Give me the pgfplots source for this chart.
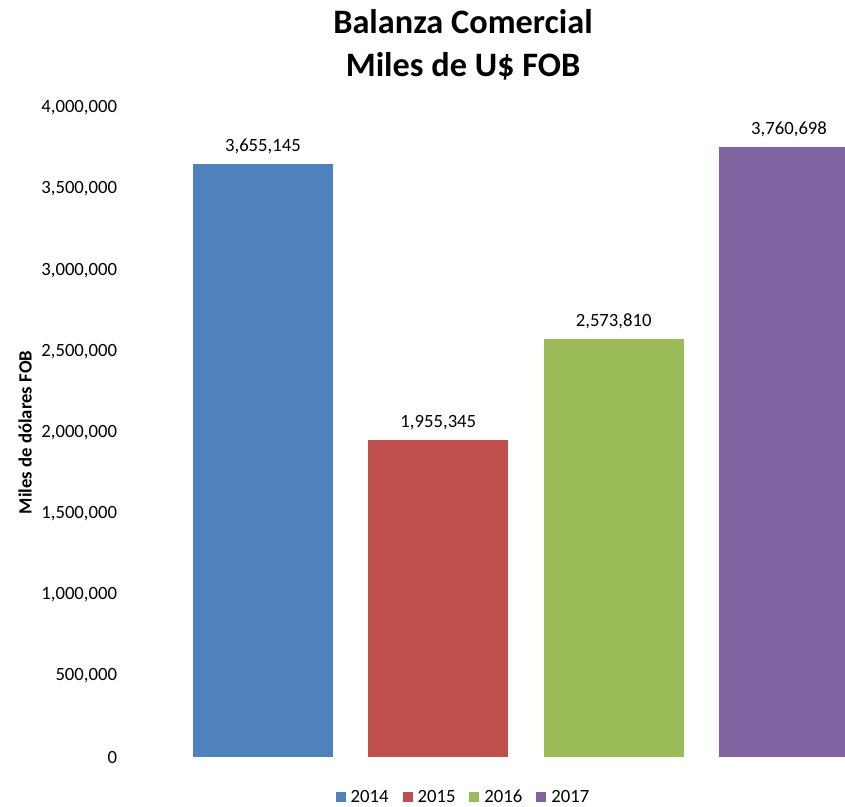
\documentclass[border=0pt]{standalone}
\usepackage{fontspec}
\setmainfont{Carlito}
\usepackage{pgfplots}
\pgfplotsset{compat=1.18}
\definecolor{c14}{HTML}{4F81BD}
\definecolor{c15}{HTML}{C0504D}
\definecolor{c16}{HTML}{9BBB59}
\definecolor{c17}{HTML}{8064A2}
\newcommand{\sz}{\fontsize{18.7}{22}\selectfont}
\begin{document}
\begin{tikzpicture}
\path[use as bounding box] (0pt,0pt) rectangle (845pt,806pt);
\node[font=\fontsize{34.3}{38}\selectfont\bfseries] at (463pt,784pt) {Balanza Comercial};
\node[font=\fontsize{34.3}{38}\selectfont\bfseries] at (463pt,740pt) {Miles de U\$ FOB};
\begin{axis}[
    at={(175.25pt,49pt)}, anchor=south west,
    scale only axis, width=669.75pt, height=649pt,
    ybar, bar width=140pt,
    xmin=-0.5, xmax=3.319,
    ymin=0, ymax=4000000,
    xtick=\empty,
    ytick={0,500000,1000000,1500000,2000000,2500000,3000000,3500000,4000000},
    scaled y ticks=false,
    yticklabel style={/pgf/number format/fixed, /pgf/number format/1000 sep={,},
        /pgf/number format/assume math mode=true,
        font=\sz, anchor=east, inner sep=0pt, xshift=-58pt},
    axis line style={draw=none},
    tick style={draw=none},
    ylabel={Miles de dólares FOB},
    ylabel style={font=\sz\bfseries, at={(axis description cs:-0.2243,0.5)}, anchor=center},
    point meta=explicit symbolic,
    nodes near coords,
    every node near coord/.append style={font=\sz, anchor=base, yshift=12.7pt},
    legend columns=4,
    legend style={at={(axis description cs:0.4296,-0.0616)}, anchor=center, draw=none,
        font=\sz, column sep=0pt,
        nodes={inner xsep=1pt},
        /tikz/every odd column/.append style={column sep=4pt},
        /tikz/every even column/.append style={column sep=13pt}},
    legend image code/.code={\fill[#1] (0pt,-5pt) rectangle (10pt,5pt);},
]
\addplot[fill=c14, draw=none, bar shift=0pt] coordinates {(0,3655145) [{3,655,145}]};
\addplot[fill=c15, draw=none, bar shift=0pt] coordinates {(1,1955345) [{1,955,345}]};
\addplot[fill=c16, draw=none, bar shift=0pt] coordinates {(2,2573810) [{2,573,810}]};
\addplot[fill=c17, draw=none, bar shift=0pt] coordinates {(3,3760698) [{3,760,698}]};
\legend{2014,2015,2016,2017}
\end{axis}
\end{tikzpicture}
\end{document}
